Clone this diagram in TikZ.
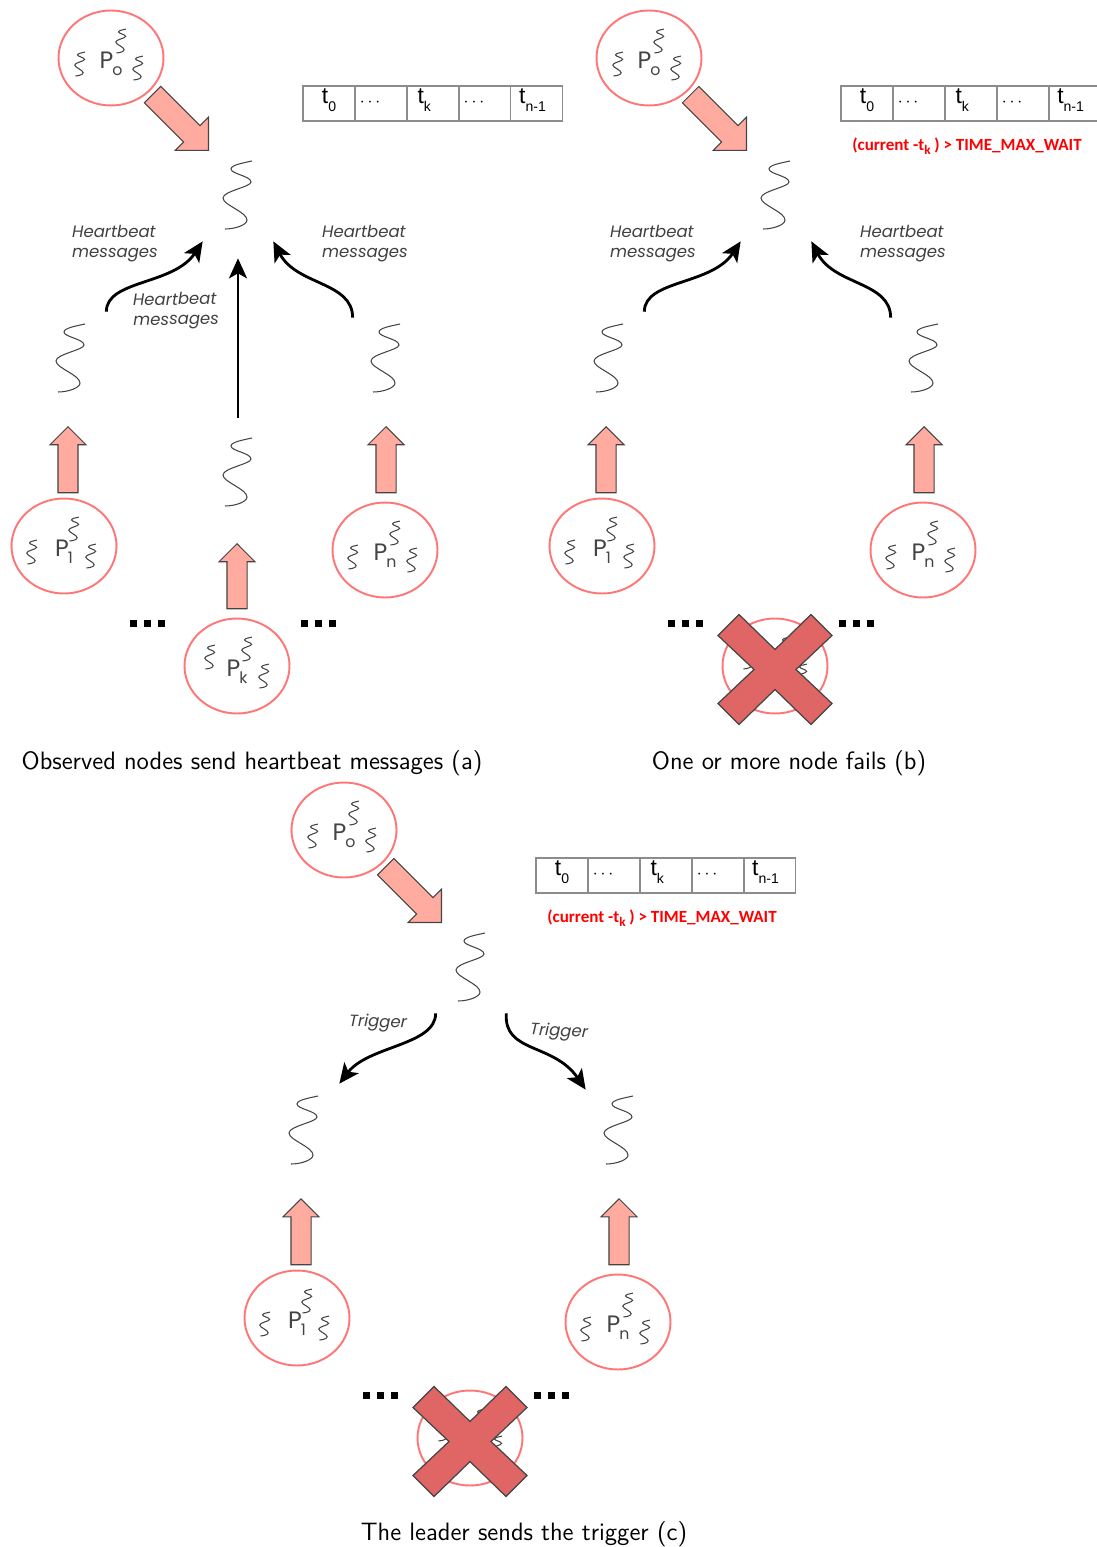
\documentclass[tikz,border=0pt]{standalone}
\usepackage{fontspec}
\newfontfamily\procfont{Poppins}
\newfontfamily\cellfont{Liberation Sans}
\newfontfamily\notefont{Carlito}
\usetikzlibrary{shapes,
                arrows.meta,
                positioning}
\definecolor{ringred}{HTML}{FF7676}
\definecolor{fatfill}{HTML}{FFAB9F}
\definecolor{crossfill}{HTML}{E06666}
\definecolor{inkgray}{HTML}{444444}
\newcommand{\lowsub}[1]{\raisebox{-4.5pt}{\fontsize{8}{9}\selectfont #1}}
\newcommand{\celldots}{\raisebox{-1.5pt}{\fontsize{10}{10}\selectfont$\cdots$}\kern12.5pt}
\tikzset{wave/.style = {draw=inkgray, line width=0.6pt}}
\tikzset{threadbox/.style = {minimum width=1.4cm, minimum height=1.84cm, inner sep=0}}
\tikzset{ring/.style =
   {ellipse,
    draw=ringred,
    line width=1.1pt,
    fill=white,
    minimum width=2.1cm,
    minimum height=1.9cm,
    inner sep=0,
    text=inkgray,
    text height=11.4pt,
    text depth=0pt,
    font=\procfont\fontsize{13.5}{14}\selectfont}}
\tikzset{fatup/.style =
   {single arrow,
    draw=inkgray,
    fill=fatfill,
    line width=0.6pt,
    inner xsep=0,
    inner ysep=0.19cm,
    single arrow head extend=0.16cm,
    minimum height=1.32cm,
    rotate=90,
    anchor=tip}}
\tikzset{fatdiag/.style =
   {single arrow,
    draw=inkgray,
    fill=fatfill,
    line width=0.6pt,
    inner xsep=0,
    inner ysep=0.22cm,
    single arrow head extend=0.24cm,
    minimum height=1.58cm,
    rotate=-45,
    anchor=tip}}
\tikzset{cell/.style =
   {rectangle,
    draw=black!45,
    line width=0.6pt,
    minimum width=1.04cm,
    minimum height=0.7cm,
    inner sep=0,
    outer sep=0,
    text height=9pt,
    text depth=9pt,
    font=\cellfont\fontsize{13}{13}\selectfont}}
\tikzset{msg/.style = {draw, line width=1.6pt, -{Stealth[length=0.4cm, width=0.36cm, inset=0.1cm]}}}
\tikzset{hint/.style = {align=left, text=black!75, font=\procfont\itshape\fontsize{9.4}{11.3}\selectfont}}
\tikzset{late/.style = {text=red, font=\notefont\bfseries\fontsize{9.7}{10}\selectfont}}
\tikzset{caption/.style = {font=\sffamily\fontsize{14.3}{15}\selectfont}}
\tikzset{dotbox/.style = {rectangle, fill=black, minimum size=0.14cm, inner sep=0}}
\tikzset{
  wiggle/.pic = {
    \draw[wave] (14,-34) .. controls (5,-32) and (-7,-30) .. (-7,-26)
      .. controls (-7,-21) and (13,-19) .. (13,-13)
      .. controls (13,-8) and (-15,-4) .. (-15,3)
      .. controls (-15,10) and (9,17) .. (9,25)
      .. controls (9,30) and (-3,34) .. (-13,34);
  },
  thread/.pic = {
    \pic {wiggle};
    \node [threadbox] (-box) {};
  },
  pics/proc/.style n args = {3}{code = {
    \node [ring] (-ring) {P\kern-0.5pt\raisebox{-4.5pt}{\fontsize{9}{9}\selectfont #1}};
    \pic [scale=0.35] at (10,-17) {wiggle};
    \pic [scale=0.35] at (#2,#3) {wiggle};
    \pic [scale=0.35] at (27,10) {wiggle};
  }},
  dotrow/.pic = {
    \foreach \i in {0,1,2}
      \node [dotbox] (-\i) at (\i*14,0) {};
  },
  failcross/.pic = {
    \draw [fill=crossfill, draw=inkgray, line width=0.7pt]
      (0,-20) -- (36,-55) -- (57,-34) -- (21,0) -- (57,34) -- (36,55) -- (0,20)
      -- (-36,55) -- (-57,34) -- (-21,0) -- (-57,-34) -- (-36,-55) -- cycle;
  }
}

\begin{document}
\begin{tikzpicture}[x=0.02cm, y=-0.02cm]

    \useasboundingbox (0,0) rectangle (1097,1547);

    % Parts shared by the three panels
    \foreach \pre/\sx/\sy in {a/0/0, b/538/0, c/233/772} {
    \begin{scope}[shift={(\sx,\sy)}, name prefix=\pre-]
        \pic (p0) at (111,58) {proc={o}{-31}{6}};
        \node [fatdiag] (bigarrow) at (209,151) {};
        \pic (top) at (238,195) {thread};

        \node [cell] (c0) at (329,103.5) {t\lowsub{0}};
        \node [cell, right=0pt of c0] (c1) {\celldots};
        \node [cell, right=0pt of c1] (c2) {t\lowsub{k}\kern10pt};
        \node [cell, right=0pt of c2] (c3) {\celldots};
        \node [cell, right=0pt of c3] (c4) {t\lowsub{n-1}\kern5pt};

        \pic (p1) at (64,546) {proc={1}{-32}{6}};
        \node [fatup] (up1) at (68,426) {};
        \pic (t1) at (71,358) {thread};

        \pic (pn) at (385,550) {proc={n}{-32}{7}};
        \node [fatup] (upn) at (386,426) {};
        \pic (tn) at (386,358) {thread};

        \pic (pk) at (237,666) {proc={k}{-27}{-9}};

        \pic (dotsl) at (133.5,623) {dotrow};
        \pic (dotsr) at (304.5,623) {dotrow};
    \end{scope}
    }

    % Panel a only
    \node [fatup, minimum height=1.3cm] (a-upk) at (237,543) {};
    \pic (a-tk) at (238,472) {thread};
    \node [hint, rotate=1] (a-hintk) at (176,311) {Heartbeat\\messages};

    % Failed node
    \pic (b-cross) at (775,669.5) {failcross};
    \pic (c-cross) at (470,1441.5) {failcross};

    \node [late] (b-late) at (967,146) {(current -t\raisebox{-0.5ex}{\fontsize{7.5}{8}\selectfont k} ) > TIME\_MAX\_WAIT};
    \node [late] (c-late) at (662,918) {(current -t\raisebox{-0.5ex}{\fontsize{7.5}{8}\selectfont k} ) > TIME\_MAX\_WAIT};

    % Heartbeat edges
    \foreach \pre/\sx in {a/0, b/538} {
        \draw [msg] (\pre-t1-box.north east) .. controls +(0,-32) and +(-29,44) .. (\pre-top-box.south west);
        \draw [msg] ([shift={(2,6)}]\pre-tn-box.north west) .. controls +(0,-36) and +(23,44) .. (\pre-top-box.south east);
        \node [hint] (\pre-hintl) at ({\sx+115},244) {Heartbeat\\messages};
        \node [hint] (\pre-hintr) at ({\sx+365},244) {Heartbeat\\messages};
    }
    \draw [msg] ([yshift=0.16cm]a-tk-box.north) -- ([yshift=-0.34cm]a-top-box.south);

    % Trigger edges
    \draw [msg] (c-top-box.south west) .. controls +(0,32) and +(29,-38) .. (c-t1-box.north east);
    \draw [msg] (c-top-box.south east) .. controls +(-3,40) and +(-32,-47) .. ([shift={(2,6)}]c-tn-box.north west);
    \node [hint, rotate=-2] (c-hintl) at (378,1023) {Trigger};
    \node [hint, rotate=-3] (c-hintr) at (559,1032) {Trigger};

    % Captions
    \node [caption] (a-cap) at (252,763) {Observed nodes send heartbeat messages (a)};
    \node [caption] (b-cap) at (789,763) {One or more node fails (b)};
    \node [caption] (c-cap) at (524,1534) {The leader sends the trigger (c)};

\end{tikzpicture}
\end{document}
